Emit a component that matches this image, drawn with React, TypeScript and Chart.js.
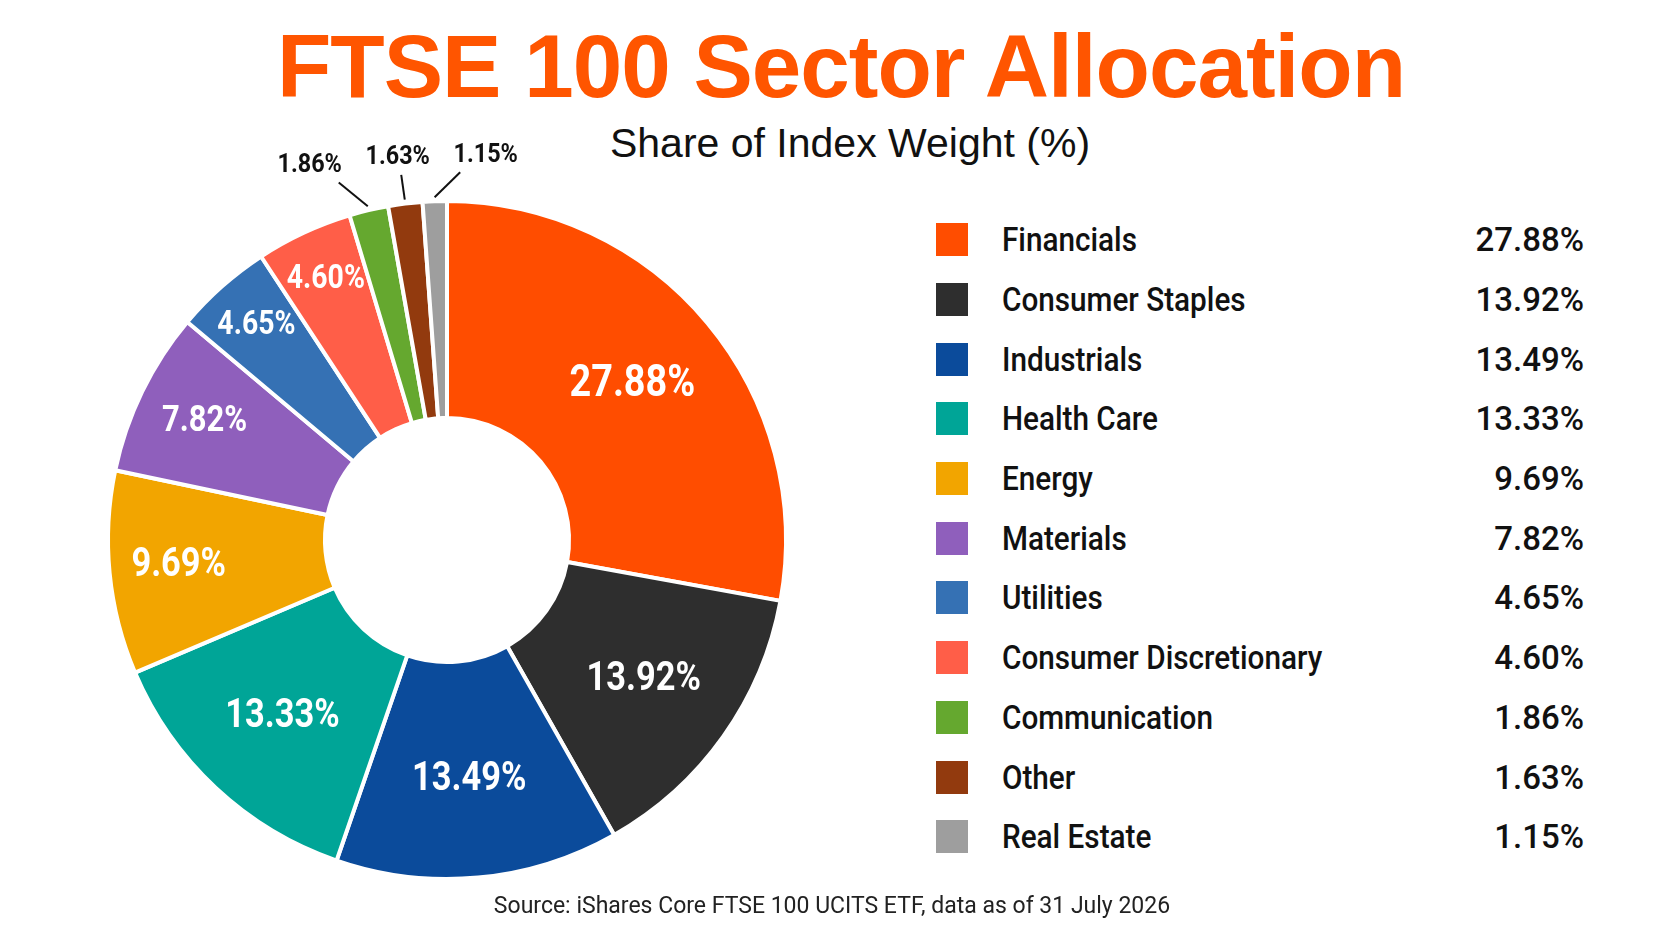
import { useEffect, useRef } from "react"
import { Chart, registerables } from "chart.js"

Chart.register(...registerables)

const sectors = [
  "Financials",
  "Consumer Staples",
  "Industrials",
  "Health Care",
  "Energy",
  "Materials",
  "Utilities",
  "Consumer Discretionary",
  "Communication",
  "Other",
  "Real Estate",
]
const weights = [27.88, 13.92, 13.49, 13.33, 9.69, 7.82, 4.65, 4.6, 1.86, 1.63, 1.15]
const sectorColors = [
  "#FF4D00",
  "#2E2E2E",
  "#0B4B9B",
  "#00A597",
  "#F2A500",
  "#8F5FBC",
  "#3571B4",
  "#FF5E48",
  "#65A82F",
  "#923A0E",
  "#9E9E9E",
]

const LABEL_FONT = 'Roboto, "Liberation Sans", sans-serif'
const fmt = (v: number) => v.toFixed(2) + "%"

// condensed text: the reference uses a narrow face, so squeeze Roboto horizontally
function drawNarrow(ctx: CanvasRenderingContext2D, text: string, x: number, y: number, squeeze: number) {
  ctx.save()
  ctx.translate(x, y)
  ctx.scale(squeeze, 1)
  ctx.fillText(text, 0, 0)
  ctx.restore()
}

// draws the percentages inside the ring, and the small ones outside with leader lines
const sliceLabels = {
  id: "sliceLabels",
  afterDatasetsDraw(chart: any) {
    const ctx = chart.ctx
    const meta = chart.getDatasetMeta(0)
    const outside: any[] = []
    ctx.save()
    ctx.textAlign = "center"
    ctx.textBaseline = "middle"
    meta.data.forEach((arc: any, i: number) => {
      const { x, y, startAngle, endAngle, innerRadius, outerRadius } = arc.getProps(
        ["x", "y", "startAngle", "endAngle", "innerRadius", "outerRadius"],
        true
      )
      const mid = (startAngle + endAngle) / 2
      const v = weights[i]
      if (v < 3) {
        outside.push({ mid, x, y, outerRadius, text: fmt(v) })
        return
      }
      const frac = v > 10 ? 0.55 : v > 6 ? 0.68 : 0.76
      const size = v > 20 ? 44 : v > 9 ? 40 : v > 6 ? 36 : 33
      const r = innerRadius + (outerRadius - innerRadius) * frac
      ctx.font = `bold ${size}px ${LABEL_FONT}`
      ctx.fillStyle = "#ffffff"
      drawNarrow(ctx, fmt(v), x + Math.cos(mid) * r, y + Math.sin(mid) * r, 0.86)
    })

    if (outside.length) {
      const gap = 88
      const items = outside
        .map((o) => ({
          ...o,
          lx: o.x + Math.cos(o.mid) * (o.outerRadius + 40),
          ly: o.y + Math.sin(o.mid) * (o.outerRadius + 46),
        }))
        .sort((a, b) => a.lx - b.lx)
      const mean = items.reduce((s, o) => s + o.lx, 0) / items.length
      for (let k = 1; k < items.length; k++) {
        if (items[k].lx - items[k - 1].lx < gap) items[k].lx = items[k - 1].lx + gap
      }
      const shift = mean - items.reduce((s, o) => s + o.lx, 0) / items.length
      ctx.font = `bold 26px ${LABEL_FONT}`
      ctx.fillStyle = "#111111"
      ctx.strokeStyle = "#111111"
      ctx.lineWidth = 2
      items.forEach((o) => {
        const lx = o.lx + shift
        const ex = o.x + Math.cos(o.mid) * (o.outerRadius + 4)
        const ey = o.y + Math.sin(o.mid) * (o.outerRadius + 4)
        ctx.beginPath()
        ctx.moveTo(ex, ey)
        ctx.lineTo(ex + (lx - ex) * 0.5, o.ly + 17)
        ctx.stroke()
        drawNarrow(ctx, o.text, lx, o.ly, 0.9)
      })
    }
    ctx.restore()
  },
}

function SectorDoughnut() {
  const chartRef = useRef<HTMLCanvasElement>(null)
  const chartInstance = useRef<Chart | null>(null)

  useEffect(() => {
    if (!chartRef.current) return
    if (chartInstance.current) chartInstance.current.destroy()
    const ctx = chartRef.current.getContext("2d")
    if (!ctx) return

    chartInstance.current = new Chart(ctx, {
      type: "doughnut",
      data: {
        labels: sectors,
        datasets: [
          {
            data: weights,
            backgroundColor: sectorColors,
            borderColor: "#ffffff",
            borderWidth: 4,
            hoverOffset: 0,
          },
        ],
      },
      options: {
        animation: false,
        responsive: false,
        events: [],
        cutout: "36%",
        layout: { padding: { top: 79, bottom: 60, left: 79, right: 79 } },
        plugins: {
          legend: { display: false },
          tooltip: { enabled: false },
        },
      },
      plugins: [sliceLabels],
    })

    return () => {
      if (chartInstance.current) {
        chartInstance.current.destroy()
        chartInstance.current = null
      }
    }
  }, [])

  return (
    <canvas
      ref={chartRef}
      width={840}
      height={821}
      style={{ position: "absolute", left: 27, top: 120, width: 840, height: 821 }}
    />
  )
}

export default function App() {
  return (
    <div
      style={{
        position: "absolute",
        left: 0,
        top: 0,
        width: 1672,
        height: 941,
        overflow: "hidden",
        background: "#ffffff",
        fontFamily: '"Liberation Sans", Arial, sans-serif',
      }}
    >
      <div
        style={{
          position: "absolute",
          left: 841,
          top: 22,
          transform: "translateX(-50%)",
          whiteSpace: "nowrap",
          fontSize: 89,
          lineHeight: "89px",
          fontWeight: 700,
          color: "#FF5500",
          letterSpacing: -1,
        }}
      >
        FTSE 100 Sector Allocation
      </div>
      <div
        style={{
          position: "absolute",
          left: 850,
          top: 123,
          transform: "translateX(-50%)",
          whiteSpace: "nowrap",
          fontSize: 41,
          lineHeight: "41px",
          color: "#111111",
        }}
      >
        Share of Index Weight (%)
      </div>

      <SectorDoughnut />

      <div style={{ position: "absolute", left: 936, top: 210, width: 648 }}>
        {sectors.map((s, i) => (
          <div
            key={s}
            style={{
              display: "flex",
              alignItems: "center",
              height: 59.7,
              fontFamily: LABEL_FONT,
              fontWeight: 500,
              fontSize: 33,
              color: "#111111",
            }}
          >
            <span style={{ width: 32, height: 33, background: sectorColors[i], flex: "none" }} />
            <span
              style={{
                marginLeft: 34,
                display: "inline-block",
                transform: "scaleX(0.9)",
                transformOrigin: "left center",
                whiteSpace: "nowrap",
              }}
            >
              {s}
            </span>
            <span style={{ marginLeft: "auto" }}>{fmt(weights[i])}</span>
          </div>
        ))}
      </div>

      <div
        style={{
          position: "absolute",
          left: 832,
          top: 894,
          transform: "translateX(-50%)",
          whiteSpace: "nowrap",
          fontFamily: LABEL_FONT,
          fontSize: 23,
          lineHeight: "23px",
          color: "#222222",
        }}
      >
        Source: iShares Core FTSE 100 UCITS ETF, data as of 31 July 2026
      </div>
    </div>
  )
}
